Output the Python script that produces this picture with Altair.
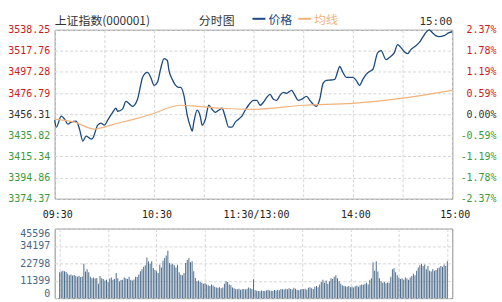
import altair as alt
import pandas as pd

# ---------------- data ----------------
prev_close = 3456.31
price_ticks = [3374.37, 3394.86, 3415.34, 3435.82, 3456.31, 3476.79, 3497.28, 3517.76, 3538.25]
pct_labels = ["-2.37%", "-1.78%", "-1.19%", "-0.59%", "0.00%", "0.59%", "1.19%", "1.78%", "2.37%"]
vol_ticks = [0, 11399, 22798, 34197, 45596]
time_ticks = [0, 30, 60, 90, 120, 150, 180, 210, 240]
time_label_pos = [0, 60, 120, 180, 240]
time_labels = ["09:30", "10:30", "11:30/13:00", "14:00", "15:00"]

price_t = [0, 1, 4, 6, 8, 10, 13, 15, 17, 19, 22, 23, 26, 28, 30, 32, 35, 37, 38, 41, 43, 46, 47,
           50, 52, 53, 56, 58, 60, 62, 64, 66, 68, 69, 71, 73, 75, 76, 78, 80, 82, 83, 84, 86,
           88, 89, 91, 93, 95, 97, 99, 101, 103, 105, 107, 109, 111, 113, 115, 117, 120, 122,
           124, 126, 128, 130, 132, 134, 136, 138, 140, 143, 145, 147, 149, 152, 154, 156, 158,
           160, 162, 164, 167, 169, 171, 172, 174, 176, 178, 180, 182, 184, 186, 188, 190, 192,
           195, 197, 200, 202, 205, 207, 209, 211, 213, 215, 218, 220, 222, 224, 226, 228, 230,
           232, 235, 238, 240]
price = [3450.5, 3443.8, 3454.4, 3451.5, 3446.7, 3448.6, 3449.6, 3441.9, 3430.3, 3435.1, 3432.2,
         3433.2, 3445.7, 3447.6, 3445.7, 3450.5, 3458.2, 3462.1, 3459.2, 3461.5, 3468.8, 3465.0,
         3464.0, 3470.8, 3485.2, 3492.0, 3496.8, 3492.0, 3484.3, 3487.2, 3500.7, 3510.3, 3508.4,
         3498.7, 3490.1, 3484.3, 3482.3, 3482.3, 3474.6, 3455.4, 3443.8, 3439.9, 3448.6, 3460.2,
         3453.4, 3445.7, 3451.5, 3465.0, 3461.1, 3458.2, 3460.2, 3462.1, 3453.4, 3443.8, 3443.8,
         3448.6, 3451.5, 3454.4, 3460.2, 3465.0, 3469.8, 3469.8, 3465.0, 3467.9, 3472.7, 3475.6,
         3470.8, 3469.8, 3474.6, 3477.5, 3476.6, 3479.5, 3474.6, 3469.8, 3470.8, 3473.7, 3469.8,
         3466.0, 3464.0, 3470.8, 3486.2, 3489.1, 3489.5, 3490.1, 3498.7, 3502.6, 3496.8, 3492.0,
         3492.0, 3492.0, 3489.1, 3484.3, 3490.1, 3494.9, 3497.8, 3499.7, 3516.1, 3518.0, 3509.3,
         3511.3, 3516.1, 3523.8, 3520.9, 3517.0, 3515.1, 3519.0, 3522.8, 3525.7, 3530.5, 3535.4,
         3538.2, 3535.4, 3532.5, 3531.5, 3532.5, 3535.4, 3536.3]

avg_t = [0, 12, 24, 30, 36, 48, 60, 70, 76, 86, 100, 120, 150, 180, 210, 240]
avg_price = [3451.5, 3448.6, 3441.9, 3443.8, 3446.7, 3451.5, 3457.3, 3463.1, 3465.0, 3464.0,
             3462.1, 3461.1, 3465.0, 3466.9, 3472.0, 3479.5]

volume = [
    17000, 17500, 18000, 17600, 17200, 16000, 15000, 15500, 14800, 15200,
    14500, 14000, 14600, 13800, 14200, 22500, 17500, 19000, 17000, 14000,
    13000, 13500, 12800, 13200, 9500, 14500, 13000, 12500, 11500, 12000,
    10500, 12800, 13500, 12000, 12500, 16500, 13000, 11000, 11800, 12000,
    13500, 13000, 12500, 14000, 12000, 11500, 12200, 14000, 13800, 15500,
    17600, 19000, 20500, 21500, 26700, 24000, 22500, 24100, 19800, 18500,
    17600, 16500, 21900, 20000, 24500, 26300, 28000, 31000, 23000, 22000,
    22500, 21500, 20000, 21900, 17000, 15400, 15000, 16500, 23000, 25000,
    26300, 23500, 24100, 17600, 13200, 11100, 11500, 10500, 10000, 9500,
    9800, 9000, 8500, 8000, 9000, 8200, 7500, 7000, 6800, 7200,
    6500, 7000, 9500, 11000, 10500, 9000, 8500, 7000, 6500, 6000,
    5800, 6200, 5500, 5800, 6000, 5600, 6200, 7000, 6500, 6000,
    12400, 5200, 4800, 4600, 4500, 5000, 4700, 4600, 5200, 5500,
    5000, 4800, 4700, 5400, 5000, 5500, 5200, 6000, 5800, 5600,
    6200, 5800, 6500, 6000, 5600, 6800, 6200, 5500, 5200, 5600,
    6000, 5800, 6200, 5500, 6800, 7200, 6500, 6000, 7500, 8000,
    7200, 9000, 10500, 12000, 10000, 11500, 9500, 11000, 13000, 12500,
    14000, 15000, 13000, 11000, 9500, 8500, 8000, 7800, 7500, 8000,
    7200, 7600, 7000, 7800, 8200, 7500, 8500, 9000, 8800, 9500,
    10000, 9000, 12000, 13000, 23500, 18000, 24100, 17500, 13000, 11000,
    10000, 10500, 9800, 10200, 10000, 14000, 19000, 19500, 17000, 15000,
    13500, 12500, 13000, 12000, 13500, 12800, 12000, 13500, 14500, 16000,
    15000, 18000, 20000, 21500, 22600, 21000, 22000, 19000, 21000, 18000,
    17500, 19000, 18000, 18500, 19500, 20000, 21000, 20500, 22000, 21000,
    24100,
]

title_text = "上证指数(000001)"
sub_text = "分时图"
legend_price = "价格"
legend_avg = "均线"
last_time = "15:00"

# ---------------- styling ----------------
MONO = "DejaVu Sans Mono"
CJK = "Noto Sans CJK SC"
PRICE_COLOR = "#1c4a7e"
AVG_COLOR = "#f0b37c"
VOL_COLOR = "#4e6d8c"
RED = "#cc1a1a"
GREEN = "#3a9a3a"
GRID = "#d6d6d6"

price_df = pd.DataFrame({"t": price_t, "price": price})
avg_df = pd.DataFrame({"t": avg_t, "avg": avg_price})
vol_df = pd.DataFrame({"t": list(range(len(volume))), "vol": volume})
xlab_df = pd.DataFrame({"t": time_label_pos, "label": time_labels})

mids = [(a + b) / 2 for a, b in zip(price_ticks[:-1], price_ticks[1:])]
pct_expr = "".join(f"datum.value < {m} ? '{l}' : " for m, l in zip(mids, pct_labels[:-1])) + f"'{pct_labels[-1]}'"
color_expr = f"datum.value > {prev_close + 1} ? '{RED}' : datum.value < {prev_close - 1} ? '{GREEN}' : '#333333'"

x_scale = alt.Scale(domain=[0, 240], nice=False, zero=False)
y_scale = alt.Scale(domain=[price_ticks[0], price_ticks[-1]], nice=False, zero=False)

x_axis_main = alt.Axis(values=time_ticks, labels=False, title=None, ticks=False, domain=False,
                       grid=True)

price_line = alt.Chart(price_df).mark_line(color=PRICE_COLOR, strokeWidth=1.3, interpolate="monotone").encode(
    x=alt.X("t:Q", scale=x_scale, axis=x_axis_main),
    y=alt.Y("price:Q", scale=y_scale,
            axis=alt.Axis(values=price_ticks, format=".2f", title=None, ticks=False, domain=False,
                          grid=True, labelFont=MONO, labelFontSize=10, labelPadding=5,
                          labelColor={"expr": color_expr})),
)

avg_line = alt.Chart(avg_df).mark_line(color=AVG_COLOR, strokeWidth=1.2, interpolate="monotone").encode(
    x=alt.X("t:Q", scale=x_scale),
    y=alt.Y("avg:Q", scale=y_scale,
            axis=alt.Axis(orient="right", values=price_ticks, labelExpr=pct_expr, title=None,
                          ticks=False, domain=False, grid=False, labelFont=MONO, labelFontSize=10,
                          labelAlign="right", labelPadding=44, labelColor={"expr": color_expr})),
)

# time labels under the price panel, placed through the shared x scale
xlab = alt.Chart(xlab_df).mark_text(
    baseline="middle", font=MONO, fontSize=10, color="#222222", dx=3
).encode(x=alt.X("t:Q", scale=x_scale), y=alt.value(186), text="label:N")

one = pd.DataFrame({"a": [0]})
title_mark = alt.Chart(pd.DataFrame({"label": [title_text]})).mark_text(
    align="left", baseline="middle", font=CJK, fontSize=12, color="#333333"
).encode(x=alt.value(0), y=alt.value(-9), text="label:N")
sub_mark = alt.Chart(pd.DataFrame({"label": [sub_text]})).mark_text(
    align="center", baseline="middle", font=CJK, fontSize=12, color="#333333"
).encode(x=alt.value(163), y=alt.value(-9), text="label:N")
leg_rule1 = alt.Chart(one).mark_rule(color=PRICE_COLOR, strokeWidth=2).encode(
    x=alt.value(199), x2=alt.value(212), y=alt.value(-11))
leg_text1 = alt.Chart(pd.DataFrame({"label": [legend_price]})).mark_text(
    align="left", baseline="middle", font=CJK, fontSize=12, color=PRICE_COLOR
).encode(x=alt.value(215), y=alt.value(-10), text="label:N")
leg_rule2 = alt.Chart(one).mark_rule(color=AVG_COLOR, strokeWidth=2).encode(
    x=alt.value(245), x2=alt.value(258), y=alt.value(-11))
leg_text2 = alt.Chart(pd.DataFrame({"label": [legend_avg]})).mark_text(
    align="left", baseline="middle", font=CJK, fontSize=12, color=AVG_COLOR
).encode(x=alt.value(261), y=alt.value(-10), text="label:N")
time_mark = alt.Chart(pd.DataFrame({"label": [last_time]})).mark_text(
    align="right", baseline="middle", font=MONO, fontSize=11, color="#333333"
).encode(x=alt.value(400), y=alt.value(-8), text="label:N")

main = alt.layer(price_line, avg_line, xlab, title_mark, sub_mark, leg_rule1, leg_text1,
                 leg_rule2, leg_text2, time_mark).resolve_axis(y="independent").properties(
    width=400, height=170)

vol_chart = alt.Chart(vol_df).mark_bar(color=VOL_COLOR, size=1).encode(
    x=alt.X("t:Q", scale=x_scale,
            axis=alt.Axis(values=time_ticks, labels=False, ticks=False, domain=False, grid=True,
                          title=None)),
    y=alt.Y("vol:Q", scale=alt.Scale(domain=[0, vol_ticks[-1]], nice=False),
            axis=alt.Axis(values=vol_ticks, format="d", title=None, ticks=False, domain=False,
                          grid=True, labelFont=MONO, labelFontSize=10, labelPadding=5,
                          labelFlush=True, labelColor="#4a6686")),
).properties(width=400, height=70)

chart = alt.vconcat(main, vol_chart, spacing=30, bounds="flush").properties(
    padding={"left": 7, "top": 12, "right": 5, "bottom": 5},
    background="white",
).configure_view(stroke="#8c8c8c", strokeWidth=1).configure_axis(
    gridColor=GRID, gridDash=[3, 2], gridWidth=1
)

chart.save("out.html", embed_options={"renderer": "svg", "actions": False})
